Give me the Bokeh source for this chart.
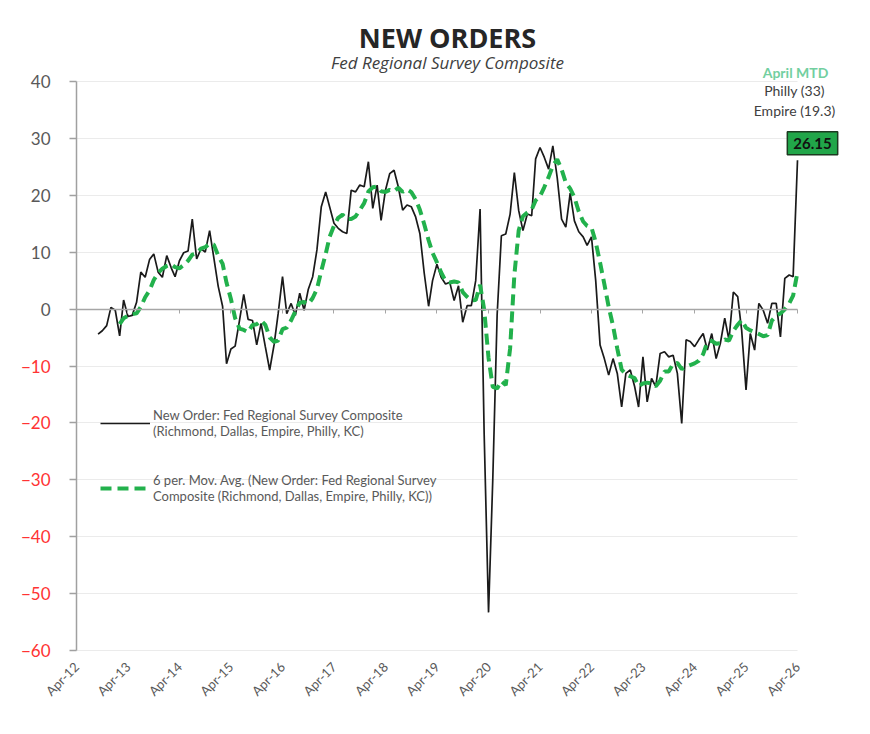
import pandas as pd
from math import pi
from bokeh.plotting import figure
from bokeh.models import (Range1d, FixedTicker, DatetimeTickFormatter, Label, LinearAxis,
                          DatetimeAxis, Legend, LegendItem, ColumnDataSource,
                          CustomJSTickFormatter, Grid)
from bokeh.embed import file_html
from bokeh.resources import INLINE

# ---------------- data ----------------
start_month = "2012-09-01"
new_orders = [
    -4.4, -3.8, -2.9, 0.3, -0.2, -4.7, 1.6, -1.3,             # Sep-12 .. Apr-13
    -1.1, 1.2, 6.5, 5.6, 8.7, 9.7, 6.5, 5.6, 9.4, 7.3, 5.7, 8.5,   # May-13 .. Apr-14
    9.9, 10.2, 15.8, 8.8, 10.6, 10.0, 13.8, 9.0, 4.0, 0.5, -9.6, -7.0,  # May-14 .. Apr-15
    -6.5, -2.0, 2.6, -1.8, -2.0, -6.3, -2.5, -6.6, -10.7, -6.3, -0.8, 5.7,  # May-15 .. Apr-16
    -0.8, 1.0, -1.1, 2.8, -0.2, 3.5, 5.7, 10.4, 18.0, 20.6, 18.0, 15.1,  # May-16 .. Apr-17
    14.2, 13.6, 13.3, 20.9, 20.6, 21.8, 21.5, 25.9, 17.7, 21.8, 15.6, 20.9,  # May-17 .. Apr-18
    23.8, 24.4, 21.5, 17.4, 18.3, 18.0, 16.2, 13.3, 6.3, 0.5, 5.0, 7.9,  # May-18 .. Apr-19
    5.6, 4.4, 4.7, 1.5, 4.1, -2.3, 0.6, 0.6, 5.0, 17.6, -22.0, -53.3,  # May-19 .. Apr-20
    -30.0, -1.0, 12.9, 13.2, 16.7, 24.0, 17.3, 13.8, 16.7, 16.4, 26.4, 28.4,  # May-20 .. Apr-21
    26.7, 24.6, 28.7, 23.1, 15.8, 14.4, 20.4, 15.5, 13.6, 12.7, 11.2, 12.7,  # May-21 .. Apr-22
    5.0, -6.3, -8.7, -11.6, -8.7, -11.3, -17.2, -11.3, -10.7, -13.6, -17.2, -8.4,  # May-22 .. Apr-23
    -16.3, -12.2, -13.6, -7.8, -7.5, -8.4, -8.1, -11.3, -20.1, -5.4, -5.7, -6.6,  # May-23 .. Apr-24
    -5.4, -4.3, -7.2, -4.3, -8.7, -6.0, -1.6, -5.4, 3.0, 2.2, -3.7, -14.2,  # May-24 .. Apr-25
    -4.3, -7.2, 1.0, -0.2, -2.5, 1.0, 1.0, -4.9, 5.4, 6.0, 5.7, 26.15,  # May-25 .. Apr-26
]
ma_window = 6
tick_years = list(range(2012, 2027))
y_ticks_pos = [0, 10, 20, 30, 40]
y_ticks_neg = [-10, -20, -30, -40, -50, -60]
title_text = "NEW ORDERS"
subtitle_text = "Fed Regional Survey Composite"
series_label = "New Order: Fed Regional Survey Composite\n(Richmond, Dallas, Empire, Philly, KC)"
ma_label = "6 per. Mov. Avg. (New Order: Fed Regional Survey\nComposite (Richmond, Dallas, Empire, Philly, KC))"
mtd_header = "April MTD"
mtd_lines = ["Philly (33)", "Empire (19.3)"]

dates = pd.date_range(start_month, periods=len(new_orders), freq="MS")
ma = pd.Series(new_orders).rolling(ma_window).mean()
src = ColumnDataSource(dict(date=dates, val=new_orders, ma=ma))

def ms(ts):
    return pd.Timestamp(ts).timestamp() * 1000.0

# ---------------- geometry ----------------
W, H = 866, 730
PLOT_LEFT = 76                 # px of the Apr-12 / y-axis position
PLOT_W = 721                   # px from Apr-12 to Apr-26
PLOT_TOP = 81                  # px of the 40 gridline from the canvas top
PLOT_H = 569                   # px from 40 to -60

y_min, y_max = -60, 40
x_start = ms(f"{tick_years[0]}-04-01")
x_end = ms(f"{tick_years[-1]}-04-01")
x_per_px = (x_end - x_start) / PLOT_W
y_per_px = (y_max - y_min) / PLOT_H
x_range_start = x_start - PLOT_LEFT * x_per_px
x_range_end = x_start + (W - PLOT_LEFT) * x_per_px
y_range_top = y_max + PLOT_TOP * y_per_px
y_range_bottom = y_min - (H - PLOT_TOP - PLOT_H) * y_per_px

p = figure(width=W, height=H, x_range=Range1d(x_range_start, x_range_end),
           y_range=Range1d(y_range_bottom, y_range_top),
           x_axis_location=None, y_axis_location=None,
           output_backend="svg", toolbar_location=None,
           min_border_left=0, min_border_right=0, min_border_top=0, min_border_bottom=0)
p.outline_line_color = None
p.background_fill_color = "white"
p.border_fill_color = "white"
p.grid.visible = False

# horizontal gridlines
grid = Grid(dimension=1, ticker=FixedTicker(ticks=y_ticks_pos + y_ticks_neg),
            grid_line_color="#ebebeb", grid_line_width=1)
try:
    grid.cross_bounds = (x_start, x_end)
except Exception:
    pass
p.add_layout(grid)

# y axes (grey positive labels, red negative labels)
for ticks, col, bnds in [(y_ticks_pos, "#595959", (0, y_max)), (y_ticks_neg, "#ff3333", (y_min, 0))]:
    ax = LinearAxis(fixed_location=x_start, ticker=FixedTicker(ticks=ticks), bounds=bnds,
                    axis_line_color="#a0a0a0", axis_line_width=1.5,
                    major_tick_line_color="#a0a0a0", major_tick_line_width=1.5,
                    major_tick_out=7, major_tick_in=0, minor_tick_line_color=None,
                    major_label_standoff=19, major_label_text_font="Lato",
                    major_label_text_font_size="17px", major_label_text_color=col)
    p.add_layout(ax, "left")

year_ticks = [ms(f"{y}-04-01") for y in tick_years]

# zero line as an axis with year ticks
zero_ax = DatetimeAxis(fixed_location=0, ticker=FixedTicker(ticks=year_ticks),
                       bounds=(x_start, x_end), formatter=CustomJSTickFormatter(code="return ''"),
                       axis_line_color="#a6a6a6", axis_line_width=1.5,
                       major_tick_line_color="#a6a6a6", major_tick_out=4, major_tick_in=0,
                       minor_tick_line_color=None, major_label_standoff=0)
p.add_layout(zero_ax, "below")

# bottom labelled x axis (at -60)
fmt = "%b-%y"
x_ax = DatetimeAxis(fixed_location=y_min, ticker=FixedTicker(ticks=year_ticks),
                    formatter=DatetimeTickFormatter(microseconds=fmt, milliseconds=fmt, seconds=fmt,
                                                    minsec=fmt, minutes=fmt, hourmin=fmt, hours=fmt,
                                                    days=fmt, months=fmt, years=fmt),
                    major_label_orientation=pi / 4, major_label_text_font="Lato",
                    major_label_text_font_size="13px", major_label_text_color="#595959",
                    axis_line_color=None, major_tick_line_color=None, minor_tick_line_color=None,
                    major_label_standoff=8)
p.add_layout(x_ax, "below")

r1 = p.line("date", "val", source=src, line_color="#1a1a1a", line_width=1.7)
r2 = p.line("date", "ma", source=src, line_color="#22b14c", line_width=4, line_dash="11 6")

legend = Legend(items=[LegendItem(label=series_label, renderers=[r1]),
                       LegendItem(label=ma_label, renderers=[r2])],
                location=(PLOT_LEFT + 24, 226), border_line_color=None, background_fill_alpha=0,
                label_text_font="Lato", label_text_font_size="13px", label_text_color="#595959",
                glyph_width=50, spacing=33, padding=0, margin=0, label_standoff=3)
p.add_layout(legend)

# titles
x_mid = x_start + 0.5146 * (x_end - x_start)
p.add_layout(Label(x=x_mid, y=47.73, text=title_text, text_align="center", text_baseline="middle",
                   text_font="Open Sans", text_font_style="bold", text_font_size="27px",
                   text_color="#262626"))
p.add_layout(Label(x=x_mid, y=43.34, text=subtitle_text, text_align="center", text_baseline="middle",
                   text_font="Open Sans", text_font_style="italic", text_font_size="17px",
                   text_color="#404040"))

# MTD annotation
p.add_layout(Label(x=x_end, y=41.58, text=mtd_header, x_offset=-2, text_align="center",
                   text_baseline="middle", text_font="Lato", text_font_style="bold",
                   text_font_size="14px", text_color="#72cf9f"))
for txt, yy in zip(mtd_lines, [38.42, 34.9]):
    p.add_layout(Label(x=x_end, y=yy, text=txt, x_offset=-3, text_align="center",
                       text_baseline="middle", text_font="Lato", text_font_size="14px",
                       text_color="#404040"))

last_val = new_orders[-1]
p.add_layout(Label(x=dates[-1].timestamp() * 1000.0, y=last_val + 3.0, text=f"{last_val:.2f}",
                   x_offset=15, text_align="center", text_baseline="middle",
                   text_font="Lato", text_font_style="bold", text_font_size="15px",
                   text_color="#111111", background_fill_color="#21a649",
                   border_line_color="#1c3a20", border_line_width=1.5, padding=6))

open("out.html", "w").write(file_html(p, INLINE))
